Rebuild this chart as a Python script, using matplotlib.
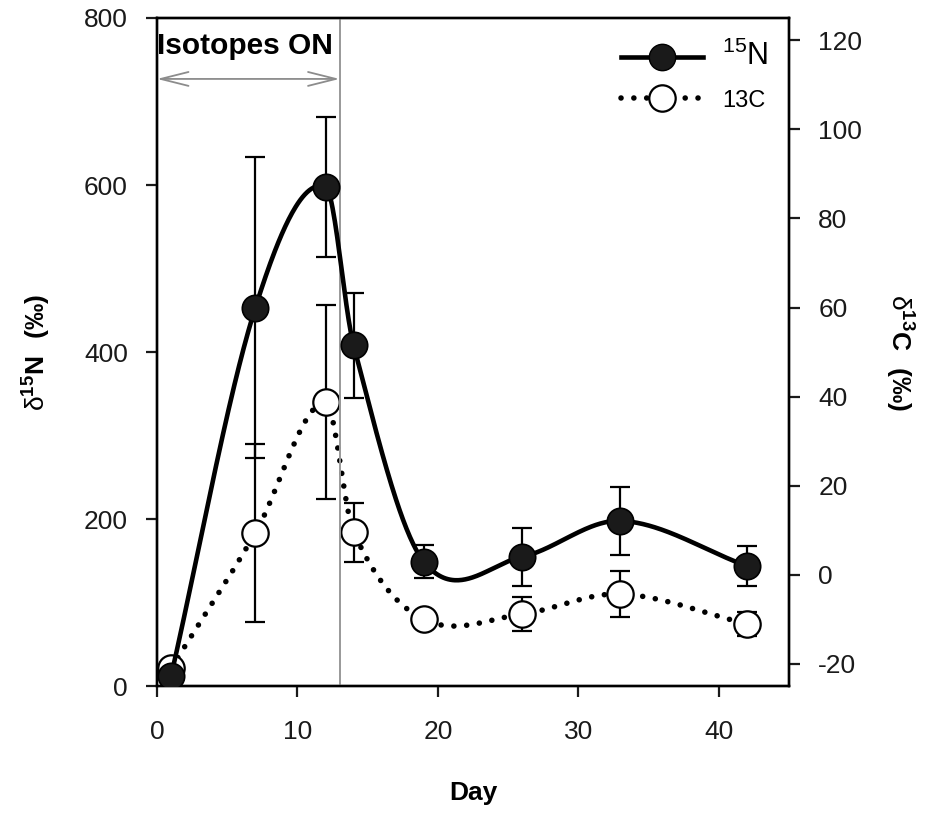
import numpy as np
import matplotlib
matplotlib.use("Agg")
import matplotlib.pyplot as plt
from matplotlib.lines import Line2D

plt.rcParams['font.family'] = ['Liberation Sans', 'DejaVu Sans']
plt.rcParams['mathtext.fontset'] = 'custom'
plt.rcParams['mathtext.rm'] = 'Liberation Sans'
plt.rcParams['mathtext.bf'] = 'Liberation Sans:bold'
plt.rcParams['mathtext.default'] = 'regular'

# data
day = [1, 7, 12, 14, 19, 26, 33, 42]
n15 = [12, 453, 598, 408, 149, 155, 198, 144]
n15_err = [0, 180, 84, 63, 20, 35, 41, 24]
c13 = [-21, 9.4, 38.8, 9.6, -10, -8.8, -4.3, -11]
c13_err = [0, 20, 21.8, 6.6, 0, 3.9, 5.2, 2.7]


def smooth(x, y, xs):
    # cubic hermite curve through the points (catmull-rom style tangents)
    x = np.asarray(x, float)
    y = np.asarray(y, float)
    n = len(x)
    m = np.zeros(n)
    m[0] = (y[1] - y[0]) / (x[1] - x[0])
    m[-1] = (y[-1] - y[-2]) / (x[-1] - x[-2])
    m[1:-1] = (y[2:] - y[:-2]) / (x[2:] - x[:-2])
    idx = np.clip(np.searchsorted(x, xs) - 1, 0, n - 2)
    h = x[idx + 1] - x[idx]
    t = (xs - x[idx]) / h
    h00 = 2 * t**3 - 3 * t**2 + 1
    h10 = t**3 - 2 * t**2 + t
    h01 = -2 * t**3 + 3 * t**2
    h11 = t**3 - t**2
    return h00 * y[idx] + h10 * h * m[idx] + h01 * y[idx + 1] + h11 * h * m[idx + 1]


xs = np.linspace(day[0], day[-1], 500)

fig = plt.figure(figsize=(9.25, 8.16), dpi=100)
ax = fig.add_axes([0.1697, 0.159, 0.6833, 0.819])
ax2 = ax.twinx()

dotted = (0, (0.01, 2.3))

# 13C on right axis
ax2.plot(xs, smooth(day, c13, xs), color='black', lw=4.0,
         linestyle=dotted, dash_capstyle='round', zorder=2)
ax2.errorbar(day, c13, yerr=c13_err, fmt='none', ecolor='black', elinewidth=1.6,
             capsize=7.5, capthick=1.6, zorder=3)
ax2.plot(day, c13, 'o', ms=19, mfc='white', mec='black', mew=1.6, zorder=4)

# 15N on left axis
ax.plot(xs, smooth(day, n15, xs), color='black', lw=3.3, zorder=2)
ax.errorbar(day, n15, yerr=n15_err, fmt='none', ecolor='black', elinewidth=1.6,
            capsize=7.5, capthick=1.6, zorder=3)
ax.plot(day, n15, 'o', ms=19, mfc='#1a1a1a', mec='black', mew=1.2, zorder=4)

ax.set_zorder(ax2.get_zorder() + 1)
ax.patch.set_visible(False)

ax.set_xlim(0, 45)
ax.set_ylim(0, 800)
ax2.set_ylim(-25, 125)
ax.set_xticks([0, 10, 20, 30, 40])
ax.set_yticks([0, 200, 400, 600, 800])
ax2.set_yticks([-20, 0, 20, 40, 60, 80, 100, 120])
ax2.set_yticklabels(['-20', '0', '20', '40', '60', '80', '100', '120'])

for a in (ax, ax2):
    a.tick_params(direction='out', length=8, width=1.6, labelsize=19, pad=13,
                  colors='#1a1a1a')
    for s in a.spines.values():
        s.set_linewidth(1.7)
ax.tick_params(axis='x', pad=16)

# isotopes-on marker
ax.axvline(13, color='#999999', lw=1.4, zorder=1)
ax.annotate('', xy=(0, 727), xytext=(13, 727),
            arrowprops=dict(arrowstyle='<->,head_length=2.0,head_width=0.5',
                            color='#8c8c8c', lw=1.3, shrinkA=0, shrinkB=0))
ax.text(0.0, 766, 'Isotopes ON', fontsize=21.5, fontweight='bold', va='center', ha='left')

ax.set_xlabel('Day', fontsize=19, fontweight='bold', labelpad=27)
ax.set_ylabel(r'δ$^{\mathbf{15}}$$\mathbf{N\ \ (‰)}$', fontsize=19, labelpad=22)
ax2.set_ylabel(r'δ$^{\mathbf{13}}$$\mathbf{C\ \ (‰)}$', fontsize=19, rotation=-90, labelpad=38)

handles = [
    Line2D([], [], color='black', lw=3.3, marker='o', ms=19, mfc='#1a1a1a', mec='black'),
    Line2D([], [], color='black', lw=4.0, linestyle=dotted, dash_capstyle='round',
           marker='o', ms=19, mfc='white', mec='black', mew=1.6),
]
leg = ax.legend(handles, ['$^{15}$N', '13C'], loc='upper left', frameon=False,
                fontsize=17, handlelength=3.5, handletextpad=0.8,
                bbox_to_anchor=(0.7, 0.998), labelspacing=0.75)
leg.get_texts()[0].set_fontsize(22)

fig.savefig('out.png', dpi=100)
